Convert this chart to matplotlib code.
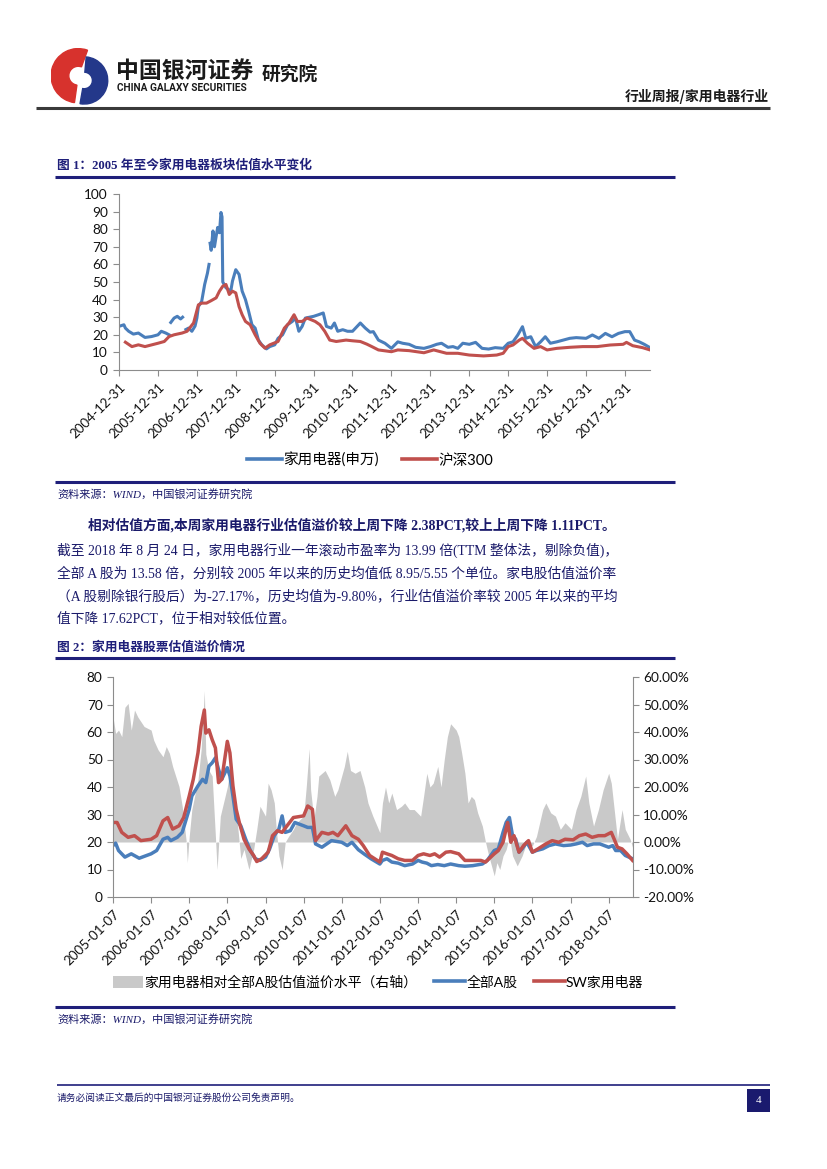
import matplotlib
matplotlib.use('Agg')
import matplotlib.pyplot as plt
import pandas as pd
import numpy as np
from matplotlib.lines import Line2D
from matplotlib.patches import Patch, Rectangle, Wedge

# ---------------- data ----------------
# Figure 1: PE of household appliances (SW) vs CSI 300
c1_app_dates = ['2004-12-31','2005-02-15','2005-03-01','2005-04-01','2005-05-15','2005-07-01','2005-09-01','2005-11-01',
 '2006-01-01','2006-02-01','2006-03-15','2006-04-15','2006-04-25','2006-05-01','2006-06-01','2006-07-01','2006-08-01','2006-08-20',
 '2006-09-05','2006-09-20','2006-10-15','2006-11-15','2006-12-15','2007-01-01','2007-01-15','2007-02-15','2007-03-15','2007-04-10',
 '2007-04-25','2007-05-01','2007-05-05','2007-05-15','2007-06-01','2007-06-15','2007-07-01','2007-07-15','2007-08-01','2007-08-15',
 '2007-08-25','2007-09-01','2007-10-01','2007-11-15','2007-12-01','2008-01-01','2008-02-01','2008-03-01','2008-04-01','2008-05-01',
 '2008-06-01','2008-07-01','2008-08-01','2008-09-01','2008-10-15','2008-11-15','2009-01-01','2009-02-01','2009-03-15','2009-05-01',
 '2009-06-15','2009-07-15','2009-08-15','2009-09-15','2009-10-15','2010-01-01','2010-02-15','2010-04-01','2010-05-01','2010-06-15',
 '2010-07-15','2010-08-15','2010-10-01','2010-11-15','2011-01-01','2011-03-15','2011-05-01','2011-06-15','2011-07-15','2011-09-01',
 '2011-11-01','2012-01-01','2012-03-01','2012-04-15','2012-06-15','2012-08-15','2012-11-01','2013-01-01','2013-03-01','2013-04-15',
 '2013-06-15','2013-08-01','2013-09-15','2013-11-01','2014-01-01','2014-03-01','2014-05-01','2014-07-01','2014-09-01','2014-11-15',
 '2015-01-01','2015-02-15','2015-04-01','2015-05-15','2015-06-15','2015-08-01','2015-09-15','2015-11-01','2015-12-15','2016-02-01',
 '2016-04-01','2016-06-01','2016-08-01','2016-10-01','2017-01-01','2017-03-01','2017-05-01','2017-07-01','2017-09-01','2017-11-01',
 '2018-01-01','2018-02-15','2018-04-01','2018-05-15','2018-07-01','2018-08-24']
c1_app_pe = [24.8,25.7,23.8,22.0,20.4,21.0,18.5,19.0,
 20.0,22.0,21.0,20.0,None,27.0,29.5,30.5,29.0,30.0,
 None,23.0,23.8,22.0,25.0,29.5,36.0,39.0,48.6,55.0,
 60.0,None,72.0,68.0,79.0,70.0,76.0,81.0,78.0,89.5,
 87.0,50.0,46.7,44.8,50.5,57.0,54.3,44.8,40.0,33.3,
 25.7,23.8,17.0,14.3,12.0,13.3,14.3,18.0,20.0,25.7,
 27.6,29.5,22.0,24.8,29.5,30.5,31.4,32.4,24.8,23.8,
 26.7,22.0,22.9,22.0,22.0,26.7,23.8,21.5,21.8,17.0,
 15.2,12.3,16.0,15.2,14.6,12.9,12.3,13.3,14.6,15.2,
 12.9,13.3,12.3,15.2,14.6,15.7,12.3,11.9,12.7,12.3,
 15.2,16.0,19.9,24.6,18.0,18.9,13.3,16.0,18.9,15.2,
 16.0,17.0,18.0,18.4,18.0,19.9,18.0,20.8,18.9,20.8,
 21.8,21.8,17.0,16.0,14.6,12.7]

c1_hs_dates = ['2005-03-01','2005-05-01','2005-07-01','2005-09-01','2006-01-01','2006-03-01','2006-04-15','2006-06-01','2006-08-15',
 '2006-10-01','2006-12-01','2007-01-15','2007-02-15','2007-04-01','2007-05-15','2007-07-01','2007-08-01','2007-09-01','2007-10-01',
 '2007-11-01','2007-12-01','2008-01-01','2008-02-01','2008-03-01','2008-04-01','2008-05-15','2008-07-01','2008-08-15','2008-10-01',
 '2008-11-15','2009-02-01','2009-04-01','2009-05-15','2009-07-01','2009-08-01','2009-09-15','2009-11-01','2010-01-15','2010-03-01',
 '2010-04-15','2010-06-01','2010-08-01','2010-11-01','2011-01-01','2011-03-15','2011-05-15','2011-07-01','2011-09-01','2012-01-01',
 '2012-03-01','2012-06-15','2012-11-01','2013-02-01','2013-06-01','2013-09-15','2014-01-01','2014-05-15','2014-09-15','2014-11-15',
 '2015-01-01','2015-02-15','2015-04-15','2015-05-15','2015-07-01','2015-09-01','2015-11-01','2016-01-01','2016-04-01','2016-08-01',
 '2016-12-01','2017-04-15','2017-08-15','2017-12-15','2018-01-15','2018-03-15','2018-06-15','2018-08-24']
c1_hs_pe = [15.8,13.3,14.3,13.3,15.2,16.2,19.0,20.0,21.0,
 22.0,26.7,37.0,38.0,38.0,39.4,41.0,44.8,47.6,48.6,
 42.9,44.8,43.8,36.0,31.4,27.6,25.7,20.0,15.2,12.4,
 14.3,16.2,23.8,26.7,31.4,27.6,27.6,29.5,27.6,25.7,
 22.0,17.0,16.2,17.0,16.6,16.2,14.7,13.3,11.4,10.4,
 11.4,11.0,9.8,11.4,9.5,9.5,8.5,8.0,8.5,9.5,
 13.3,14.2,17.0,18.0,15.2,12.3,13.3,11.4,12.3,12.9,
 13.3,13.3,14.2,14.6,15.7,13.8,12.7,11.4]

c1_ticks = ['2004-12-31','2005-12-31','2006-12-31','2007-12-31','2008-12-31','2009-12-31','2010-12-31',
 '2011-12-31','2012-12-31','2013-12-31','2014-12-31','2015-12-31','2016-12-31','2017-12-31']
c1_labels = ['家用电器(申万)', '沪深300']

# Figure 2: PE of all A shares, SW appliances and relative premium (%)
c2_a_dates = ['2005-01-07','2005-02-01','2005-03-01','2005-05-01','2005-07-01','2005-09-15','2006-01-07','2006-03-01','2006-05-01',
 '2006-06-15','2006-07-15','2006-09-15','2006-11-01','2007-01-07','2007-02-01','2007-04-01','2007-05-15','2007-06-15','2007-07-15',
 '2007-08-15','2007-09-15','2007-10-15','2007-11-15','2008-01-07','2008-02-01','2008-03-01','2008-04-01','2008-05-15','2008-07-01',
 '2008-08-15','2008-10-01','2008-11-15','2009-01-07','2009-02-15','2009-04-01','2009-05-15','2009-06-15','2009-07-15','2009-09-01',
 '2009-10-15','2010-01-07','2010-02-15','2010-04-01','2010-05-01','2010-07-01','2010-10-01','2011-01-07','2011-03-01','2011-04-15',
 '2011-06-15','2011-08-15','2011-10-15','2012-01-07','2012-02-01','2012-03-15','2012-05-01','2012-07-01','2012-09-01','2012-11-15',
 '2013-01-07','2013-02-15','2013-04-01','2013-05-15','2013-07-15','2013-09-15','2013-11-15','2014-02-01','2014-04-01','2014-06-15',
 '2014-09-15','2014-11-01','2015-01-07','2015-02-15','2015-04-01','2015-05-01','2015-06-01','2015-07-01','2015-08-01','2015-09-01',
 '2015-10-01','2015-11-15','2016-01-07','2016-02-15','2016-04-15','2016-06-15','2016-08-15','2016-11-01','2017-01-07','2017-03-01',
 '2017-05-01','2017-06-15','2017-08-15','2017-10-15','2018-01-07','2018-02-15','2018-03-15','2018-05-01','2018-06-15','2018-08-24']
c2_a_pe = [18.7,19.6,16.9,14.5,15.7,14.1,15.7,16.9,21.0,
 21.7,20.5,21.7,23.5,31.9,36.7,40.4,42.8,41.6,47.6,
 48.8,50.6,46.4,42.8,47.0,44.0,36.7,28.3,25.9,21.0,
 16.9,13.9,13.3,14.5,17.5,22.3,24.7,29.5,23.5,24.1,
 27.1,25.9,25.3,25.3,19.3,18.1,20.5,19.9,18.7,19.9,
 17.2,15.5,13.9,12.0,13.3,13.9,12.7,12.3,11.4,12.0,
 13.3,12.7,12.3,11.4,11.8,11.4,12.0,11.4,11.2,11.4,
 12.0,13.3,16.9,17.5,23.5,27.1,28.9,22.3,21.0,16.3,
 17.5,19.9,16.3,16.9,17.5,18.7,19.3,18.7,18.9,19.3,
 19.9,18.7,19.3,19.3,18.1,18.7,16.9,16.9,15.1,13.9]

c2_sw_dates = ['2005-01-07','2005-02-15','2005-04-01','2005-06-01','2005-08-01','2005-10-01','2006-01-07','2006-03-01','2006-05-01',
 '2006-06-15','2006-08-01','2006-10-01','2006-11-15','2007-01-07','2007-02-15','2007-04-01','2007-05-01','2007-06-01','2007-06-15',
 '2007-07-15','2007-08-15','2007-09-15','2007-10-15','2007-11-15','2008-01-07','2008-02-01','2008-03-01','2008-04-01','2008-05-01',
 '2008-06-15','2008-08-01','2008-09-15','2008-10-15','2008-12-01','2009-02-01','2009-03-15','2009-05-01','2009-06-15','2009-08-01',
 '2009-10-01','2010-01-07','2010-02-15','2010-04-01','2010-05-01','2010-07-01','2010-09-01','2010-10-15','2010-12-01','2011-02-15',
 '2011-04-15','2011-06-15','2011-08-01','2011-10-01','2012-01-07','2012-02-01','2012-03-15','2012-05-01','2012-07-01','2012-09-01',
 '2012-11-15','2013-01-07','2013-03-01','2013-05-01','2013-06-15','2013-08-01','2013-10-01','2013-11-15','2014-02-01','2014-04-01',
 '2014-06-15','2014-09-01','2014-10-15','2015-01-07','2015-02-15','2015-04-01','2015-05-15','2015-06-15','2015-07-15','2015-09-01',
 '2015-10-15','2015-12-01','2016-01-07','2016-03-01','2016-05-15','2016-07-15','2016-09-15','2016-11-15','2017-02-01','2017-04-01',
 '2017-06-01','2017-08-01','2017-10-01','2017-12-01','2018-02-01','2018-03-01','2018-04-01','2018-05-15','2018-07-01','2018-08-24']
c2_sw_pe = [27.1,27.1,23.5,21.7,22.3,20.5,21.0,22.3,27.7,
 28.9,24.7,25.9,28.9,36.7,42.8,52.4,62.0,68.0,59.6,
 60.8,57.2,54.2,41.6,42.8,56.6,52.4,40.4,31.9,27.1,
 21.0,17.5,15.1,12.9,13.9,16.3,22.3,24.1,23.5,25.9,
 28.9,29.5,33.1,31.9,20.5,23.5,22.9,23.5,22.3,25.9,
 22.3,21.0,18.7,15.1,12.7,16.3,15.7,15.1,13.9,13.3,
 13.3,15.1,15.7,15.1,15.7,14.5,16.3,16.5,15.7,13.3,
 13.3,13.3,12.7,15.7,16.9,19.9,27.1,19.9,22.3,16.3,
 18.7,20.5,16.3,17.5,19.3,20.5,19.9,21.0,20.8,22.3,
 22.9,21.7,22.3,22.3,23.5,21.0,18.1,17.5,15.7,13.3]

c2_prem_dates = ['2005-01-07','2005-02-01','2005-03-01','2005-04-01','2005-05-01','2005-06-01','2005-07-01','2005-08-01','2005-09-01',
 '2005-11-01','2006-01-07','2006-02-01','2006-03-15','2006-05-01','2006-06-01','2006-07-01','2006-08-01','2006-10-01','2006-11-01',
 '2006-12-10','2006-12-20','2007-01-07','2007-02-01','2007-04-01','2007-05-01','2007-06-01','2007-06-15','2007-07-15','2007-08-15',
 '2007-09-15','2007-10-01','2007-11-01','2008-01-07','2008-02-01','2008-03-01','2008-04-01','2008-04-15','2008-05-15','2008-06-15',
 '2008-08-01','2008-09-15','2008-10-15','2008-11-15','2009-01-07','2009-02-01','2009-03-01','2009-04-01','2009-04-20','2009-05-15',
 '2009-06-15','2009-07-15','2009-08-15','2009-10-01','2009-11-01','2010-01-07','2010-02-01','2010-03-01','2010-03-15','2010-04-15',
 '2010-05-15','2010-06-01','2010-08-01','2010-09-15','2010-11-01','2010-12-01','2011-02-01','2011-03-01','2011-04-01','2011-05-15',
 '2011-07-01','2011-08-15','2011-09-15','2011-11-01','2012-01-07','2012-02-01','2012-03-01','2012-04-01','2012-05-01','2012-06-15',
 '2012-08-01','2012-09-01','2012-10-15','2012-12-01','2013-02-01','2013-03-01','2013-04-01','2013-05-01','2013-06-01','2013-07-15',
 '2013-08-15','2013-09-15','2013-10-15','2013-11-15','2014-01-07','2014-02-01','2014-03-01','2014-04-01','2014-05-01','2014-06-01',
 '2014-07-01','2014-08-01','2014-09-15','2014-10-15','2014-11-15','2015-01-07','2015-02-01','2015-03-01','2015-04-01','2015-05-01',
 '2015-06-01','2015-07-01','2015-08-15','2015-10-01','2015-11-15','2016-01-07','2016-02-15','2016-04-15','2016-05-15','2016-07-01',
 '2016-08-15','2016-10-01','2016-11-15','2017-01-15','2017-03-01','2017-04-15','2017-06-01','2017-07-01','2017-08-15','2017-10-01',
 '2017-11-15','2018-01-07','2018-02-01','2018-03-01','2018-04-01','2018-05-15','2018-06-15','2018-08-01','2018-08-24']
c2_premium = [45.5,39.5,40.7,38.3,49.0,50.4,40.7,48.0,45.5,
 42.0,40.7,37.0,33.5,31.0,34.7,32.3,27.5,20.2,13.0,
 0.0,-7.5,2.0,11.8,22.6,33.5,55.0,32.0,26.0,24.0,
 2.0,-10.0,9.4,20.0,26.0,19.0,11.8,5.8,-6.0,-2.7,
 -10.0,-2.7,4.6,13.0,9.4,21.4,19.0,14.2,4.6,-5.0,
 -10.0,0.0,2.0,4.6,7.0,9.4,20.0,34.0,19.0,8.2,
 16.6,24.0,26.0,22.6,16.6,19.0,27.5,33.0,26.0,25.0,
 26.0,20.0,14.2,9.4,3.4,14.2,20.0,14.2,17.8,11.8,
 13.0,14.2,11.8,11.8,9.4,16.6,25.0,20.0,21.4,27.5,
 20.0,30.0,38.3,43.0,40.7,38.3,32.3,25.0,14.2,16.6,
 15.4,10.6,5.8,0.0,-5.0,-12.3,-7.5,-10.0,-5.0,-2.7,
 2.0,-5.0,-8.7,-5.0,0.0,-1.4,2.0,11.8,14.2,10.6,
 9.4,4.6,7.0,4.6,11.8,16.6,24.0,14.2,5.8,11.8,
 19.0,25.0,21.4,11.8,1.0,11.8,4.6,1.0,-2.0]

c2_ticks = ['2005-01-07','2006-01-07','2007-01-07','2008-01-07','2009-01-07','2010-01-07','2011-01-07',
 '2012-01-07','2013-01-07','2014-01-07','2015-01-07','2016-01-07','2017-01-07','2018-01-07']
c2_labels = ['家用电器相对全部A股估值溢价水平（右轴）', '全部A股', 'SW家用电器']

# ---------------- style ----------------
W, H = 827, 1169
BLUE = '#4A7EBB'
RED = '#C0504D'
GRAY = '#C9C9C9'
NAVY = '#1F1F7A'
TXT = '#1A1A6A'
AXC = '#8C8C8C'
CJK = ['Noto Sans CJK SC', 'DejaVu Sans']
CHART = ['Lato', 'Noto Sans CJK SC', 'DejaVu Sans']
SERIF = ['Liberation Serif', 'Noto Sans CJK SC', 'DejaVu Sans']
plt.rcParams['font.family'] = CHART
TICK_FS = 9.6

fig = plt.figure(figsize=(W / 100, H / 100), dpi=100)


def fx(x):
    return x / W


def fy(y):
    return 1 - y / H


def hline(x0, x1, y, color, lw):
    fig.add_artist(Line2D([fx(x0), fx(x1)], [fy(y), fy(y)], transform=fig.transFigure,
                          color=color, lw=lw, solid_capstyle='butt'))


def ftext(x, y, s, **kw):
    fig.text(fx(x), fy(y), s, **kw)


# ---------------- header ----------------
logo = fig.add_axes([fx(50), fy(107), fx(60), (107 - 48) / H])
logo.set_xlim(0, 1)
logo.set_ylim(0, 1)
logo.set_aspect('equal')
logo.axis('off')
logo.add_patch(Wedge((0.47, 0.53), 0.46, 70, 262, width=0.30, color='#D7322D'))
logo.add_patch(Wedge((0.57, 0.45), 0.40, -100, 85, width=0.26, color='#24388A'))

ftext(116, 78, '中国银河证券', fontsize=16.5, fontweight='bold', color='#1A1A1A', family=CJK)
ftext(117, 91, 'CHINA GALAXY SECURITIES', fontsize=7.3, fontweight='bold', color='#1A1A1A', family=['Roboto', 'DejaVu Sans'])
ftext(262, 80, '研究院', fontsize=13.5, fontweight='bold', color='#1A1A1A', family=CJK)
ftext(769, 101, '行业周报/家用电器行业', fontsize=10, fontweight='bold', color='#1A1A1A', family=CJK, ha='right')
hline(36, 770, 108, '#3A3A3A', 2.2)

# ---------------- figure 1 ----------------
ftext(57, 169, '图 1：2005 年至今家用电器板块估值水平变化', fontsize=9.2, fontweight='bold', color=NAVY, family=SERIF)
hline(55, 675, 177, NAVY, 2.2)

ax1 = fig.add_axes([fx(119), fy(370), (650 - 119) / W, (370 - 194) / H])
d_app = pd.to_datetime(c1_app_dates)
v_app = np.array([np.nan if v is None else v for v in c1_app_pe], dtype=float)
d_hs = pd.to_datetime(c1_hs_dates)
v_hs = np.array(c1_hs_pe, dtype=float)
ax1.plot(d_app, v_app, color=BLUE, lw=2.2, label=c1_labels[0], solid_joinstyle='round')
ax1.plot(d_hs, v_hs, color=RED, lw=2.2, label=c1_labels[1], solid_joinstyle='round')
ax1.set_xlim(pd.Timestamp('2004-12-31'), pd.Timestamp('2018-08-24'))
ax1.set_ylim(0, 100)
ax1.set_yticks(range(0, 101, 10))
ax1.set_xticks(pd.to_datetime(c1_ticks))
ax1.set_xticklabels(c1_ticks, rotation=45, ha='right', rotation_mode='anchor')
for s in ['top', 'right']:
    ax1.spines[s].set_visible(False)
for s in ['left', 'bottom']:
    ax1.spines[s].set_color(AXC)
    ax1.spines[s].set_linewidth(0.8)
ax1.tick_params(axis='both', colors=AXC, labelcolor='#111111', labelsize=9.8, length=4, width=0.8)
ax1.tick_params(axis='x', pad=4, labelsize=TICK_FS)
ax1.tick_params(axis='y', pad=4)

h1 = [Line2D([], [], color=BLUE, lw=2.6), Line2D([], [], color=RED, lw=2.6)]
fig.legend(h1, c1_labels, loc='center', bbox_to_anchor=(fx(370), fy(460)), ncol=2, frameon=False,
           handlelength=2.4, handletextpad=0.1, columnspacing=1.6, fontsize=10.5)

hline(55, 675, 482, NAVY, 2.2)
ftext(57, 498, '资料来源：WIND，中国银河证券研究院', fontsize=8, style='italic', color=TXT, family=SERIF)

# ---------------- paragraph ----------------
ftext(88, 530, '相对估值方面,本周家用电器行业估值溢价较上周下降 2.38PCT,较上上周下降 1.11PCT。',
      fontsize=9.9, fontweight='bold', color=TXT, family=SERIF)
para = ['截至 2018 年 8 月 24 日，家用电器行业一年滚动市盈率为 13.99 倍(TTM 整体法，剔除负值)，',
        '全部 A 股为 13.58 倍，分别较 2005 年以来的历史均值低 8.95/5.55 个单位。家电股估值溢价率',
        '（A 股剔除银行股后）为-27.17%，历史均值为-9.80%，行业估值溢价率较 2005 年以来的平均',
        '值下降 17.62PCT，位于相对较低位置。']
for i, line in enumerate(para):
    ftext(57, 555 + i * 22.5, line, fontsize=9.9, color=TXT, family=SERIF)

# ---------------- figure 2 ----------------
ftext(57, 651, '图 2：家用电器股票估值溢价情况', fontsize=9.2, fontweight='bold', color=NAVY, family=SERIF)
hline(55, 675, 658, NAVY, 2.2)

ax = fig.add_axes([fx(113), fy(897), (633 - 113) / W, (897 - 677) / H])
ax2 = ax.twinx()
d_p = pd.to_datetime(c2_prem_dates)
ax2.fill_between(d_p, 0, np.array(c2_premium, dtype=float), color=GRAY, lw=0)
ax2.set_ylim(-20, 60)
ax2.set_yticks(range(-20, 61, 10))
ax2.set_yticklabels(['{:.2f}%'.format(v) for v in range(-20, 61, 10)])
ax.set_zorder(ax2.get_zorder() + 1)
ax.patch.set_visible(False)
ax.plot(pd.to_datetime(c2_a_dates), c2_a_pe, color=BLUE, lw=2.5, solid_joinstyle='round')
ax.plot(pd.to_datetime(c2_sw_dates), c2_sw_pe, color=RED, lw=2.5, solid_joinstyle='round')
ax.set_ylim(0, 80)
ax.set_yticks(range(0, 81, 10))
ax.set_xlim(pd.Timestamp('2005-01-07'), pd.Timestamp('2018-08-28'))
ax.set_xticks(pd.to_datetime(c2_ticks))
ax.set_xticklabels(c2_ticks, rotation=45, ha='right', rotation_mode='anchor')
for a in (ax, ax2):
    a.spines['top'].set_visible(False)
    for s in ['left', 'bottom', 'right']:
        a.spines[s].set_color(AXC)
        a.spines[s].set_linewidth(0.8)
    a.tick_params(axis='both', colors=AXC, labelcolor='#111111', labelsize=9.8, length=4, width=0.8)
ax.tick_params(axis='x', labelsize=TICK_FS, pad=4)
ax.spines['right'].set_visible(False)
ax2.spines['left'].set_visible(False)
ax2.spines['bottom'].set_visible(False)

h2 = [Patch(facecolor=GRAY, edgecolor='none'), Line2D([], [], color=BLUE, lw=2.6), Line2D([], [], color=RED, lw=2.6)]
fig.legend(h2, c2_labels, loc='center', bbox_to_anchor=(fx(378), fy(982)), ncol=3, frameon=False,
           handlelength=2.2, handleheight=0.9, handletextpad=0.1, columnspacing=1.2, fontsize=10)

hline(55, 675, 1007, NAVY, 2.2)
ftext(57, 1023, '资料来源：WIND，中国银河证券研究院', fontsize=8, style='italic', color=TXT, family=SERIF)

# ---------------- footer ----------------
hline(57, 770, 1085, NAVY, 1.2)
ftext(57, 1101, '请务必阅读正文最后的中国银河证券股份公司免责声明。', fontsize=7.0, color=TXT, family=CJK)
fig.add_artist(Rectangle((fx(747), fy(1112)), 23 / W, 23 / H, transform=fig.transFigure,
                         facecolor='#1A1A6E', edgecolor='none'))
ftext(758.5, 1100.5, '4', fontsize=8, color='white', ha='center', va='center', family=['Liberation Serif'])

fig.savefig('out.png', dpi=100)
